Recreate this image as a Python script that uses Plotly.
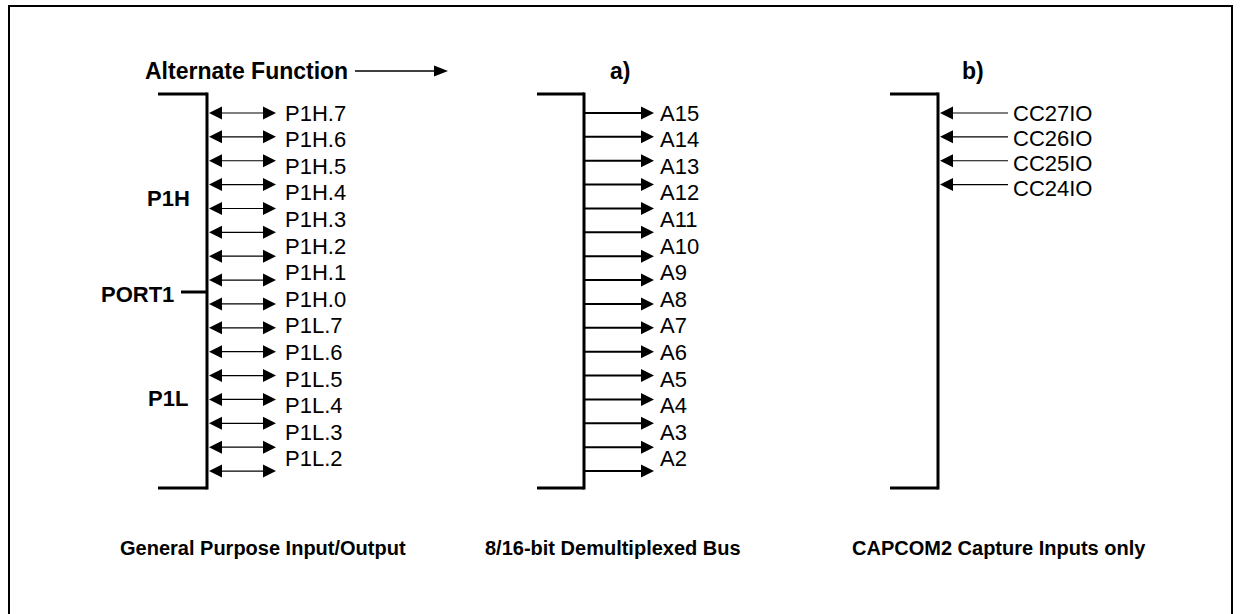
import plotly.graph_objects as go

# ---------------- data ----------------
port_labels = ["P1H.7", "P1H.6", "P1H.5", "P1H.4", "P1H.3", "P1H.2", "P1H.1", "P1H.0",
               "P1L.7", "P1L.6", "P1L.5", "P1L.4", "P1L.3", "P1L.2"]
bus_labels = ["A15", "A14", "A13", "A12", "A11", "A10", "A9", "A8",
              "A7", "A6", "A5", "A4", "A3", "A2"]
capcom_labels = ["CC27IO", "CC26IO", "CC25IO", "CC24IO"]
n_port_lines = 16
n_bus_lines = 16
group_labels = ["P1H", "P1L"]
captions = ["General Purpose Input/Output", "8/16-bit Demultiplexed Bus", "CAPCOM2 Capture Inputs only"]
section_tags = ["a)", "b)"]
header_text = "Alternate Function"
port_name = "PORT1"

# ---------------- geometry ----------------
W, H = 1240, 614
ARROW_Y0, ARROW_DY = 113.0, 23.87
LABEL_Y0, LABEL_DY = 112.0, 26.6
BR_TOP, BR_BOT = 94, 488
BLACK = "#000000"
FONT = "Liberation Sans, Arial, Helvetica, sans-serif"

shapes = []
annotations = []


def line(x0, y0, x1, y1, w):
    shapes.append(dict(type="line", xref="x", yref="y", x0=x0, y0=y0, x1=x1, y1=y1,
                       line=dict(color=BLACK, width=w)))


def tri(tip_x, y, direction, length=13, half=6.5):
    base = tip_x - direction * length
    path = f"M {tip_x},{y} L {base},{y - half} L {base},{y + half} Z"
    shapes.append(dict(type="path", xref="x", yref="y", path=path,
                       fillcolor=BLACK, line=dict(color=BLACK, width=0)))


def text(x, y, s, size, bold=False, xanchor="left", family=FONT):
    annotations.append(dict(x=x, y=y, xref="x", yref="y", text=(f"<b>{s}</b>" if bold else s),
                            showarrow=False, xanchor=xanchor, yanchor="middle",
                            font=dict(family=family, size=size, color=BLACK)))


def bracket(x_left, x_v):
    line(x_left, BR_TOP, x_v, BR_TOP, 3)
    line(x_v, BR_TOP - 1.5, x_v, BR_BOT + 1.5, 3)
    line(x_left, BR_BOT, x_v, BR_BOT, 3)


# outer frame
shapes.append(dict(type="rect", xref="x", yref="y", x0=9, y0=6, x1=1232, y1=H + 10,
                   line=dict(color=BLACK, width=2)))

# header
text(143, 71, header_text, 23, bold=True)
line(355, 71, 434, 71, 1.3)
tri(448, 71, +1, length=14, half=5.5)
text(620, 71, section_tags[0], 23, bold=True, xanchor="center")
text(973, 71, section_tags[1], 23, bold=True, xanchor="center")

# ---- section 1: PORT1 bidirectional ----
bracket(158, 207)
for i in range(n_port_lines):
    y = ARROW_Y0 + i * ARROW_DY
    line(220, y, 263, y, 1.2)
    tri(209, y, -1)
    tri(276, y, +1)
for i, lab in enumerate(port_labels):
    text(283, LABEL_Y0 + i * LABEL_DY + 1, lab, 22)
text(168, 198, group_labels[0], 22, bold=True, xanchor="center")
text(168, 398, group_labels[1], 22, bold=True, xanchor="center")
text(176, 294, port_name, 22, bold=True, xanchor="right")
line(181, 292, 207, 292, 3)

# ---- section 2: address bus outputs ----
bracket(537, 584)
for i in range(n_bus_lines):
    y = ARROW_Y0 + i * ARROW_DY
    line(585, y, 642, y, 2)
    tri(654, y, +1)
for i, lab in enumerate(bus_labels):
    text(658, LABEL_Y0 + i * LABEL_DY + 1, lab, 22)

# ---- section 3: CAPCOM2 capture inputs ----
bracket(890, 938)
for i, lab in enumerate(capcom_labels):
    y = ARROW_Y0 + i * ARROW_DY
    line(950, y, 1008, y, 1.2)
    tri(940, y, -1)
    text(1011, LABEL_Y0 + i * 25.3 + 1, lab, 22)

# captions
for cx, cap in zip([263, 613, 999], captions):
    text(cx, 548, cap, 20, bold=True, xanchor="center")

fig = go.Figure()
fig.update_layout(
    width=W, height=H,
    margin=dict(l=0, r=0, t=0, b=0),
    paper_bgcolor="white", plot_bgcolor="white",
    xaxis=dict(range=[0, W], visible=False, fixedrange=True),
    yaxis=dict(range=[H, 0], visible=False, fixedrange=True),
    shapes=shapes, annotations=annotations, showlegend=False,
)
fig.write_html("out.html", config={"displayModeBar": False},
               post_script="document.body.style.margin='0';document.body.style.overflow='hidden';")
